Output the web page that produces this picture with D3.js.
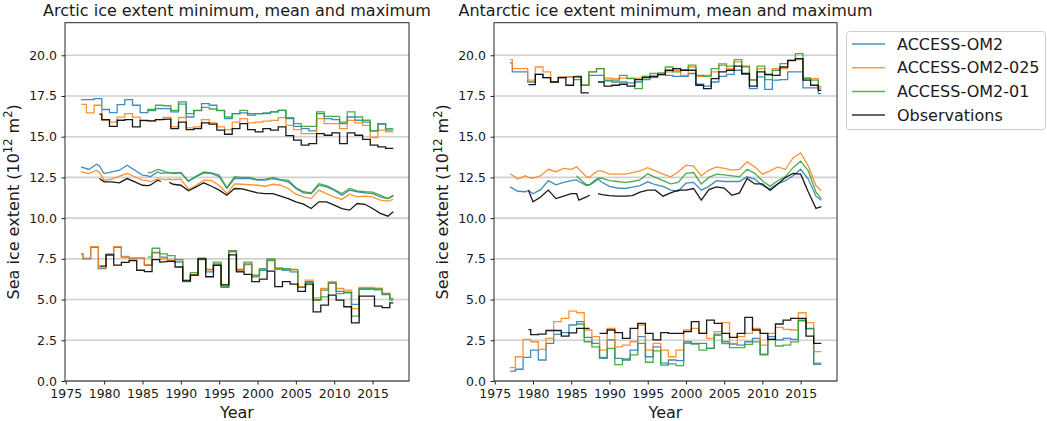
<!DOCTYPE html>
<html><head><meta charset="utf-8">
<script src="https://cdn.jsdelivr.net/npm/d3@7"></script>
<style>
body{margin:0;background:#fff;}
text{font-family:"DejaVu Sans",sans-serif;fill:#1a1a1a;}
</style></head><body>
<svg id="c" width="1047" height="421"></svg>
<script>
// ---------------- DATA ----------------
const seriesNames = ["ACCESS-OM2","ACCESS-OM2-025","ACCESS-OM2-01","Observations"];
const seriesStart = [1977.0, 1977.0, 1985.7, 1979.4];
const seriesEnd = 2017.7;
const obsGap = [1987.4, 1988.5];
const xTicks = [1975,1980,1985,1990,1995,2000,2005,2010,2015];
const yTicks = [0,2.5,5,7.5,10,12.5,15,17.5,20];

// annual steps (one value per year window)
const stepYears = d3.range(1977, 2019);
// running means
const meanYears = [1977,1978,1979,1979.4,1980,1981,1982,1983,1984,1985,1985.7,1986,1987,1987.4,1988,1988.5,
  1989,1990,1991,1992,1993,1994,1995,1996,1997,1998,1999,2000,2001,2002,2003,2004,2005,2006,2007,2008,
  2009,2010,2011,2012,2013,2014,2015,2016,2017,2017.7];

// Arctic maximum
const arcMaxOM2 = [17.28,17.28,17.34,16.67,16.48,16.97,17.28,16.93,16.48,16.67,16.73,16.73,16.52,17.14,16.21,16.62,17.03,16.93,16.62,16.11,16.42,16.46,16.32,16.42,16.46,16.52,16.62,16.11,15.64,15.5,15.36,16.42,16.11,16.05,15.8,16.21,16.01,15.9,15.36,15.77,15.4,null];
const arcMaxOM2025 = [16.99,16.46,16.93,16.01,15.9,16.2,16.42,16.2,15.97,15.97,16.05,16.18,15.6,16.18,15.54,15.6,16.05,15.85,15.6,15.44,15.9,16.11,15.85,15.9,15.96,16.0,16.17,15.7,15.44,15.19,15.19,16.11,15.8,15.8,15.5,16.0,15.85,15.7,14.95,15.4,15.3,null];
const arcMaxOM201 = [null,null,null,null,null,null,null,null,null,16.6,16.93,16.9,16.62,17.0,16.42,16.6,16.8,16.7,16.6,16.21,16.42,16.62,16.42,16.42,16.42,16.52,16.62,16.17,15.8,15.64,15.64,16.52,16.25,16.25,15.9,16.52,16.21,16.01,15.36,15.8,15.5,null];
const arcMaxObs = [null,null,16.38,16.05,15.64,16.01,16.05,15.6,16.0,15.97,16.05,16.08,15.5,15.9,15.44,15.5,15.85,15.77,15.4,15.15,15.5,15.8,15.44,15.3,15.5,15.4,15.6,15.07,14.79,14.48,14.58,15.19,15.09,15.23,14.58,15.23,15.09,14.83,14.48,14.38,14.28,null];
// Arctic minimum
const arcMinOM2 = [7.80,7.50,8.20,6.90,7.75,8.20,7.60,7.55,7.55,7.10,7.90,7.60,7.40,7.30,6.10,6.50,7.45,6.70,7.15,5.75,8.00,6.75,7.15,6.40,6.80,7.40,6.85,6.80,6.70,5.75,6.05,5.00,5.58,6.05,5.50,5.45,4.70,5.65,5.65,5.60,5.30,4.97];
const arcMinOM2025 = [7.80,7.55,8.25,6.95,7.80,8.25,7.65,7.55,7.55,7.15,7.85,7.50,7.40,7.35,6.15,6.55,7.50,6.75,7.20,5.90,7.95,6.80,7.20,6.45,6.85,7.45,6.90,6.85,6.75,5.80,6.20,5.10,5.68,6.09,5.68,5.58,4.45,5.75,5.75,5.70,5.40,5.00];
const arcMinOM201 = [null,null,null,null,null,null,null,null,null,7.60,8.15,7.80,7.70,7.45,6.20,6.65,7.55,6.85,7.30,5.80,7.95,6.85,7.30,6.50,6.90,7.50,6.95,6.90,6.85,5.75,6.10,4.95,5.17,5.99,5.37,5.41,3.98,5.65,5.65,5.65,5.35,5.07];
const arcMinObs = [null,null,null,7.05,7.75,7.12,7.28,7.40,6.80,6.72,7.45,7.30,7.35,7.00,6.15,6.50,7.50,6.40,7.10,5.90,7.75,6.70,6.55,6.10,6.25,6.75,5.80,6.10,5.95,5.50,5.95,4.25,4.66,5.27,4.96,4.56,3.57,5.21,5.21,4.60,4.50,4.80];
// Arctic mean
const arcMeanOM2 = [13.15,12.99,13.31,13.2,12.74,12.84,12.94,13.25,12.94,12.64,12.6,12.54,12.84,12.75,12.78,12.8,12.74,12.8,12.25,12.54,12.78,12.74,12.54,11.82,12.43,12.43,12.43,12.33,12.33,12.43,12.33,12.23,11.82,11.55,11.51,12.02,11.92,11.72,11.41,11.72,11.62,11.55,11.51,11.31,11.2,11.35];
const arcMeanOM2025 = [12.84,12.74,12.94,12.8,12.33,12.4,12.58,12.74,12.54,12.33,12.3,12.23,12.43,12.4,12.37,12.4,12.37,12.4,11.76,12.02,12.33,12.3,12.02,11.51,12.1,12.08,12.05,12.02,11.96,12.08,12.02,11.82,11.47,11.31,11.2,11.72,11.51,11.31,11.15,11.47,11.31,11.35,11.31,11.1,11.04,11.15];
const arcMeanOM201 = [null,null,null,null,null,null,null,null,null,null,12.8,12.78,12.99,12.95,12.84,12.8,12.78,12.78,12.29,12.58,12.84,12.78,12.64,11.88,12.54,12.5,12.5,12.37,12.4,12.5,12.37,12.33,11.88,11.62,11.55,12.12,12.0,11.76,11.51,11.82,11.68,11.62,11.6,11.41,11.2,11.41];
const arcMeanObs = [null,null,null,12.43,12.23,12.23,12.17,12.43,12.23,12.02,12.0,12.02,12.33,12.25,null,12.2,12.08,12.02,11.68,11.92,12.17,11.96,11.72,11.41,11.82,11.8,11.68,11.55,11.51,11.51,11.35,11.2,11.0,10.86,10.59,11.0,11.0,10.8,10.59,10.49,10.9,10.85,10.59,10.29,10.12,10.39];

// Antarctic maximum
const antMaxOM2 = [19.53,18.98,18.98,18.36,18.83,18.63,18.36,18.63,18.67,18.5,18.16,18.77,18.77,18.43,18.36,18.36,18.3,18.36,18.5,18.63,18.8,18.77,18.71,18.71,18.88,18.22,18.1,18.36,18.71,18.83,19.08,18.83,17.95,18.67,17.9,18.47,18.5,18.98,18.98,18.0,18.0,17.65];
const antMaxOM2025 = [19.73,19.18,19.18,18.47,19.28,18.98,18.36,18.67,18.67,18.71,18.16,18.98,19.18,18.6,18.57,18.6,18.6,18.6,18.71,18.71,18.83,18.98,19.08,18.77,19.28,18.71,18.77,18.98,19.49,19.18,19.59,19.28,18.5,19.18,18.77,19.18,19.18,19.65,19.73,18.63,18.57,17.95];
const antMaxOM201 = [null,null,null,null,null,null,null,null,null,18.7,18.16,18.98,19.18,18.47,18.47,18.77,18.57,17.95,18.71,18.88,18.92,19.28,18.98,19.08,19.39,18.77,18.71,19.18,19.39,19.33,19.73,19.33,18.47,19.33,18.5,19.08,19.49,19.69,20.1,18.57,18.47,18.06];
const antMaxObs = [null,null,null,18.2,18.83,18.63,18.36,18.63,18.16,18.67,17.69,null,18.36,18.1,18.16,18.22,18.1,18.5,18.63,18.71,18.83,19.08,19.18,19.08,19.08,18.16,17.95,18.57,18.98,19.08,19.33,18.88,18.1,18.98,18.83,18.77,19.28,19.69,19.8,18.47,18.16,17.85];
// Antarctic minimum
const antMinOM2 = [0.61,0.72,1.45,1.9,1.29,2.31,2.86,2.97,3.44,3.64,2.68,2.31,1.39,2.52,1.39,1.29,1.9,2.72,1.49,2.1,0.98,1.29,1.25,2.41,2.31,2.31,2.0,2.88,2.41,2.27,2.2,2.41,2.62,1.6,2.72,2.52,2.62,2.56,3.74,3.23,1.02,null];
const antMinOM2025 = [0.82,1.49,2.56,2.41,1.94,2.62,3.64,3.84,4.29,4.19,3.13,2.72,1.9,3.23,2.1,2.2,2.41,3.44,1.9,2.31,1.9,1.49,1.9,3.13,3.23,2.92,2.62,3.03,3.58,2.31,2.72,2.92,3.23,2.2,2.92,3.29,3.17,3.13,4.19,3.58,1.8,null];
const antMinOM201 = [null,null,null,null,null,null,null,null,null,3.5,2.41,2.1,1.45,2.0,1.0,1.35,1.6,2.31,1.15,1.85,1.1,1.05,0.95,2.31,2.27,1.9,2.0,2.8,2.3,2.05,2.05,2.25,2.4,1.65,2.55,2.15,2.2,2.4,3.7,3.2,1.1,null];
const antMinObs = [null,null,3.15,2.85,2.88,3.1,3.1,2.75,2.95,3.23,3.23,null,2.92,3.13,2.97,2.62,3.23,3.54,2.92,2.52,2.97,2.92,2.92,3.03,3.64,2.92,3.74,3.54,2.92,2.68,2.92,3.91,3.13,2.92,2.56,3.5,3.74,3.85,3.85,2.76,2.31,null];
// Antarctic mean
const antMeanOM2 = [11.92,11.65,11.62,11.7,11.5,11.75,12.3,12.05,12.2,12.3,12.35,12.25,12.0,12.05,12.2,12.4,12.2,11.95,11.85,11.82,11.9,12.0,12.23,12.05,11.95,11.72,11.65,12.15,12.2,11.72,11.95,12.3,12.25,12.25,12.25,12.54,12.4,12.0,11.8,12.1,12.3,12.6,13.0,12.4,11.35,11.1];
const antMeanOM2025 = [12.74,12.4,12.6,12.5,12.45,12.6,13.0,12.85,13.05,13.0,13.15,13.0,12.55,12.5,12.75,12.9,12.9,12.7,12.7,12.7,12.8,12.9,13.1,12.9,12.7,12.54,12.85,13.25,13.2,12.6,12.95,13.15,13.05,12.95,13.0,13.46,13.15,12.7,12.9,13.15,13.0,13.7,14.0,13.2,12.0,11.68];
const antMeanOM201 = [null,null,null,null,null,null,null,null,null,null,12.6,12.45,12.05,12.05,12.3,12.45,12.45,12.3,12.25,12.2,12.25,12.35,12.72,12.5,12.3,12.1,12.2,12.75,12.8,12.1,12.5,12.7,12.65,12.6,12.55,13.0,12.75,12.3,11.95,12.3,12.55,13.1,13.5,12.9,11.6,11.2];
const antMeanObs = [null,null,null,11.72,11.0,11.3,11.72,11.2,11.35,11.5,11.5,11.1,11.3,11.41,null,11.51,11.45,11.38,11.35,11.35,11.38,11.6,11.72,11.72,11.35,11.55,11.72,11.72,11.82,11.1,11.75,11.92,11.85,11.4,11.55,12.43,12.1,12.1,11.7,12.1,12.5,12.74,12.7,11.6,10.6,10.7];

// ---------------- LAYOUT / STYLE ----------------
const colors = ["#1f77b4","#ff7f0e","#2ca02c","#000000"];
const panels = [
  {x0:65, x1:409, ylabX:18.5, title:"Arctic ice extent minimum, mean and maximum",
   max:[arcMaxOM2,arcMaxOM2025,arcMaxOM201,arcMaxObs], maxOff:-0.3,
   min:[arcMinOM2,arcMinOM2025,arcMinOM201,arcMinObs], minOff:-0.75,
   mean:[arcMeanOM2,arcMeanOM2025,arcMeanOM201,arcMeanObs]},
  {x0:494, x1:837, ylabX:448, title:"Antarctic ice extent minimum, mean and maximum",
   max:[antMaxOM2,antMaxOM2025,antMaxOM201,antMaxObs], maxOff:-0.7,
   min:[antMinOM2,antMinOM2025,antMinOM201,antMinObs], minOff:-0.3,
   mean:[antMeanOM2,antMeanOM2025,antMeanOM201,antMeanObs]}
];
const plotTop = 22.7, plotBottom = 381;
const svg = d3.select("#c");

function stepPoints(vals, off, k) {
  const pts = [];
  const start = seriesStart[k];
  stepYears.forEach((yr, i) => {
    const v = vals[i];
    if (v == null) { pts.push(null); return; }
    let a = Math.max(yr + off, start), b = Math.min(yr + 1 + off, seriesEnd);
    let pieces = [[a, b]];
    if (k === 3) {
      pieces = [];
      if (a < obsGap[0]) pieces.push([a, Math.min(b, obsGap[0])]);
      if (b > obsGap[1]) pieces.push([Math.max(a, obsGap[1]), b]);
      if (pieces.length === 0) { pts.push(null); return; }
    }
    pieces.forEach((pc, j) => {
      if (pc[1] <= pc[0]) return;
      if (j > 0) pts.push(null);
      pts.push([pc[0], v], [pc[1], v]);
    });
  });
  return pts;
}

panels.forEach(p => {
  const x = d3.scaleLinear().domain([1974.9, 2019.75]).range([p.x0, p.x1]);
  const y = d3.scaleLinear().domain([0, 22]).range([plotBottom, plotTop]);
  const g = svg.append("g");

  g.append("g").selectAll("line").data(yTicks).join("line")
    .attr("x1", p.x0).attr("x2", p.x1)
    .attr("y1", d => y(d)).attr("y2", d => y(d))
    .attr("stroke", "#d0d0d0").attr("stroke-width", 1.6);

  const line = d3.line().defined(d => d != null).x(d => x(d[0])).y(d => y(d[1]));
  const lg = g.append("g").attr("fill", "none").attr("stroke-width", 1.3).attr("stroke-linejoin", "miter");
  for (let k = 0; k < 4; k++) {
    const maxPts = stepPoints(p.max[k], p.maxOff, k);
    const minPts = stepPoints(p.min[k], p.minOff, k);
    const meanPts = meanYears.map((yr, i) => p.mean[k][i] == null ? null : [yr, p.mean[k][i]]);
    [maxPts, meanPts, minPts].forEach(pts => {
      lg.append("path").attr("d", line(pts)).attr("stroke", colors[k]).attr("stroke-opacity", k === 3 ? 0.9 : 0.85);
    });
  }

  const xAxis = d3.axisBottom(x).tickValues(xTicks).tickFormat(d3.format("d")).tickSize(3.5).tickPadding(4.5).tickSizeOuter(0);
  const yAxis = d3.axisLeft(y).tickValues(yTicks).tickFormat(d3.format(".1f")).tickSize(3.5).tickPadding(4.5).tickSizeOuter(0);
  const xa = g.append("g").attr("transform", `translate(0,${plotBottom})`).call(xAxis);
  const ya = g.append("g").attr("transform", `translate(${p.x0},0)`).call(yAxis);
  [xa, ya].forEach(a => {
    a.select(".domain").remove();
    a.selectAll("line").attr("stroke", "#222").attr("stroke-width", 1);
    a.selectAll("text").attr("font-size", "12.5px").attr("fill", "#1a1a1a").attr("font-family", "DejaVu Sans");
  });

  g.append("rect").attr("x", p.x0).attr("y", plotTop).attr("width", p.x1 - p.x0).attr("height", plotBottom - plotTop)
    .attr("fill", "none").attr("stroke", "#262626").attr("stroke-width", 1);

  g.append("text").attr("x", (p.x0 + p.x1) / 2).attr("y", 15.5).attr("text-anchor", "middle")
    .attr("font-size", "16px").text(p.title);
  g.append("text").attr("x", (p.x0 + p.x1) / 2).attr("y", 418).attr("text-anchor", "middle")
    .attr("font-size", "16px").text("Year");
  const yl = g.append("text").attr("transform", `translate(${p.ylabX},${(plotTop + plotBottom) / 2}) rotate(-90)`)
    .attr("text-anchor", "middle").attr("font-size", "16px");
  yl.append("tspan").text("Sea ice extent (10");
  yl.append("tspan").attr("dy", -6.5).attr("font-size", "11.5px").text("12");
  yl.append("tspan").attr("dy", 6.5).text(" m");
  yl.append("tspan").attr("dy", -6.5).attr("font-size", "11.5px").text("2");
  yl.append("tspan").attr("dy", 6.5).text(")");
});

// legend
const lgd = svg.append("g");
lgd.append("rect").attr("x", 846.5).attr("y", 31.5).attr("width", 199).attr("height", 98).attr("rx", 3)
  .attr("fill", "#fff").attr("stroke", "#cccccc").attr("stroke-width", 1);
seriesNames.forEach((n, i) => {
  const yy = 44 + i * 23.7;
  lgd.append("line").attr("x1", 852).attr("x2", 885).attr("y1", yy).attr("y2", yy)
    .attr("stroke", colors[i]).attr("stroke-width", 1.5).attr("stroke-opacity", 0.8);
  lgd.append("text").attr("x", 897).attr("y", yy + 5.6).attr("font-size", "16px").text(n);
});
</script>
</body></html>
